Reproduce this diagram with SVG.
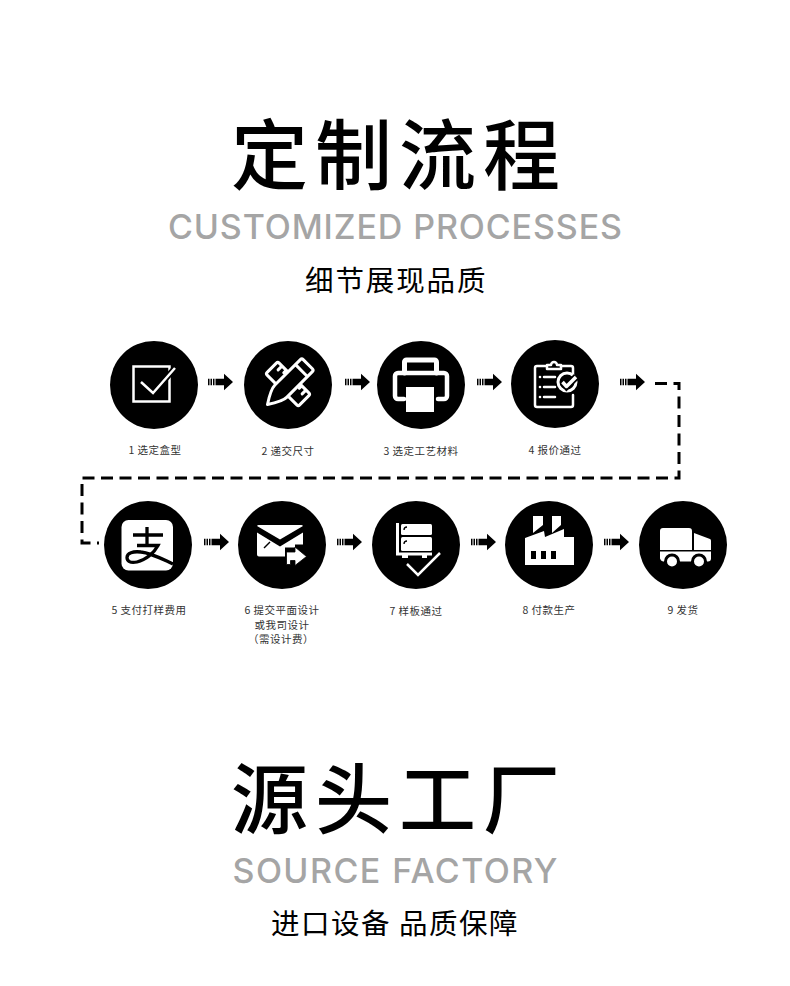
<svg xmlns="http://www.w3.org/2000/svg" width="790" height="986" viewBox="0 0 790 986">
<style>
.zh{font-family:"Noto Sans CJK SC","Noto Sans",sans-serif;fill:#000}
.t{font-size:77px;font-weight:500;letter-spacing:7px}
.s{font-size:28.500px;font-weight:400}
.en{font-family:Inter,"Liberation Sans",sans-serif;font-size:34px;font-weight:450;fill:#a5a5a5;text-anchor:middle}
.l{font-family:"Noto Sans CJK SC",sans-serif;font-size:10.500px;fill:#333;text-anchor:middle;letter-spacing:.5px}
.o{fill:none;stroke:#fff;stroke-width:2.500;stroke-linejoin:round;stroke-linecap:round}
.w{fill:#fff}
.k{fill:#000}
.dash{fill:none;stroke:#000;stroke-width:3;stroke-dasharray:12 6.500}
</style>
<defs>
<path id="arr" d="M0-3.300h1.500v6.600h-1.500zM2.500-3.300h1.500v6.600h-1.500zM5-3.300h1.500v6.600h-1.500zM7.500-3.300h8.500v-5l9 8.300-9 8.300v-5h-8.500z" fill="#000"/>
<circle id="c" r="44" fill="#000"/>
</defs>
<rect width="790" height="986" fill="#fff"/>
<g id="heading1">
<text class="zh t" x="231" y="183.500">定制流程</text>
<text class="en" x="395" y="239" textLength="454" lengthAdjust="spacing">CUSTOMIZED PROCESSES</text>
<text class="zh s" x="305" y="291" letter-spacing="1.900">细节展现品质</text>
</g>
<g id="connectors">
<use href="#arr" x="208" y="382"/><use href="#arr" x="345" y="382"/><use href="#arr" x="477" y="382"/><use href="#arr" x="620" y="382"/>
<use href="#arr" x="204" y="542"/><use href="#arr" x="337" y="542"/><use href="#arr" x="471" y="542"/><use href="#arr" x="604" y="542"/>
<path class="dash" d="M655 383.500H679V478H82V543H99"/>
</g>
<g id="n1"><use href="#c" x="154" y="385"/>
<rect x="133.500" y="366.500" width="36" height="35" fill="none" stroke="#fff" stroke-width="2.500"/>
<path d="M141 382l12 11 22-25" fill="none" stroke="#000" stroke-width="6"/>
<path d="M141 382l12 11 22-25" fill="none" stroke="#fff" stroke-width="2.500"/>
<text class="l" x="155" y="454">1 选定盒型</text></g>
<g id="n2"><use href="#c" x="288" y="385"/>
<g transform="translate(288 384) rotate(45)">
<rect class="o" x="-23" y="-8.500" width="46" height="17" rx="2" style="stroke-width:3"/>
<path class="o" d="M-17-8v5M-11-8v3M11-8v3M17-8v5" style="stroke-width:3"/>
<path d="M-8.500-26a2 2 0 0 1 2-2h13a2 2 0 0 1 2 2v36q0 6-8.500 19q-8.500-13-8.500-19z" fill="#000" stroke="#fff" stroke-width="3" stroke-linejoin="round"/>
<path class="o" d="M-8-19h16" style="stroke-width:3"/></g>
<text class="l" x="288" y="455">2 递交尺寸</text></g>
<g id="n3"><use href="#c" x="421" y="385"/>
<path class="o" stroke-linecap="butt" style="stroke-width:5" d="M404.500 373v-11a2 2 0 0 1 2-2h28a2 2 0 0 1 2 2v11"/>
<path class="o" stroke-linecap="butt" style="stroke-width:4.500" d="M404 399h-6a3 3 0 0 1-3-3v-20a3 3 0 0 1 3-3h46a3 3 0 0 1 3 3v20a3 3 0 0 1-3 3h-6"/>
<rect class="w" x="406" y="387" width="28" height="25"/>
<text class="l" x="421" y="455">3 选定工艺材料</text></g>
<g id="n4"><use href="#c" x="555" y="384"/>
<path class="o" d="M546 366h-9a2 2 0 0 0-2 2v37a2 2 0 0 0 2 2h34a2 2 0 0 0 2-2v-10M573 375v-7a2 2 0 0 0-2-2h-10"/>
<path class="o" d="M547 369v-4h4a3 3 0 0 1 6 0h4v4z"/>
<path class="o" d="M544 377h11M544 387h11M544 397h11"/>
<circle class="w" cx="540" cy="377" r="1.300"/><circle class="w" cx="540" cy="387" r="1.300"/><circle class="w" cx="540" cy="397" r="1.300"/>
<circle class="o" cx="567" cy="382" r="9" style="stroke-width:3"/>
<path d="M562.500 382l4 4.500 10-10" fill="none" stroke="#000" stroke-width="7"/>
<path class="o" d="M562.500 382l4 4.500 9.500-9.500" style="stroke-width:3.500;stroke-linecap:butt"/>
<text class="l" x="555" y="454">4 报价通过</text></g>
<g id="n5"><use href="#c" x="148" y="545"/>
<rect class="w" x="121.500" y="520" width="51.500" height="50.500" rx="7"/>
<path d="M133 535h30M147 527v18M137 545.500h21C154 553 146 560 137 562C130 563.500 127 561 127 557.500C127 553 133 551 141 552C151 553 160 558 173 564" fill="none" stroke="#000" stroke-width="3.300"/>
<text class="l" x="149" y="614">5 支付打样费用</text></g>
<g id="n6"><use href="#c" x="282" y="545"/>
<path class="w" d="M259 525h42a2 2 0 0 1 2 1l-23 13.500-23-13.500a2 2 0 0 1 2-1z"/>
<path class="w" d="M257 532.500l23 14 23-14v12h-8v3h-10v9h-26a2 2 0 0 1-2-2z"/>
<path d="M264 548l6-6" fill="none" stroke="#000" stroke-width="1.500"/>
<path class="w" d="M286.500 552h8.500v-5l11.500 9.500-11.500 9v-5h-4.500v4h-4z" stroke="#000" stroke-width=".8"/>
<text class="l" x="282" y="614">6 提交平面设计</text>
<text class="l" x="282" y="629">或我司设计</text>
<text class="l" x="281" y="643">（需设计费）</text></g>
<g id="n7"><use href="#c" x="416" y="545"/>
<path class="w" d="M396 523h3v29.500h33v3h-5v2.500h-5v-2.500h-14v2.500h-6v-2.500h-6z"/>
<rect class="w" x="401" y="524" width="31" height="11" rx="1.500"/><rect class="w" x="401" y="537" width="31" height="14" rx="1.500"/>
<path d="M404 530q0-3 3-3M404 544q0-3 3-3" fill="none" stroke="#000" stroke-width="1.300"/>
<path d="M407 564l11 11 22-22" fill="none" stroke="#fff" stroke-width="2.500"/>
<text class="l" x="416" y="615">7 样板通过</text></g>
<g id="n8"><use href="#c" x="549" y="545"/>
<path class="w" d="M533 516h10v9l-10 8zM552 516h9v9l-9 8zM525 538l19-7 1 6 19-8v8h10v28h-49z"/>
<path class="k" d="M531 551h5v8h-5zM541 551h5v8h-5zM551 551h5v8h-5z"/>
<text class="l" x="549" y="614">8 付款生产</text></g>
<g id="n9"><use href="#c" x="683" y="545"/>
<path class="w" d="M660 531a3 3 0 0 1 3-3h26a3 3 0 0 1 3 3v19h-32zM694 533l16 6a2 2 0 0 1 1 2v9h-17zM660 551.500h51v7a3 3 0 0 1-3 3h-1a8 8 0 0 0-16 0h-11a8 8 0 0 0-16 0h-1a4 4 0 0 1-3-3z"/>
<circle class="w" cx="672" cy="561.500" r="6" stroke="#000" stroke-width="2"/><circle class="w" cx="699" cy="561.500" r="6" stroke="#000" stroke-width="2"/>
<text class="l" x="683" y="614">9 发货</text></g>
<g id="heading2">
<text class="zh t" x="231" y="827.500">源头工厂</text>
<text class="en" x="395" y="883" textLength="325" lengthAdjust="spacing">SOURCE FACTORY</text>
<text class="zh s" x="271" y="934" letter-spacing="1.500">进口设备 品质保障</text>
</g>
</svg>
